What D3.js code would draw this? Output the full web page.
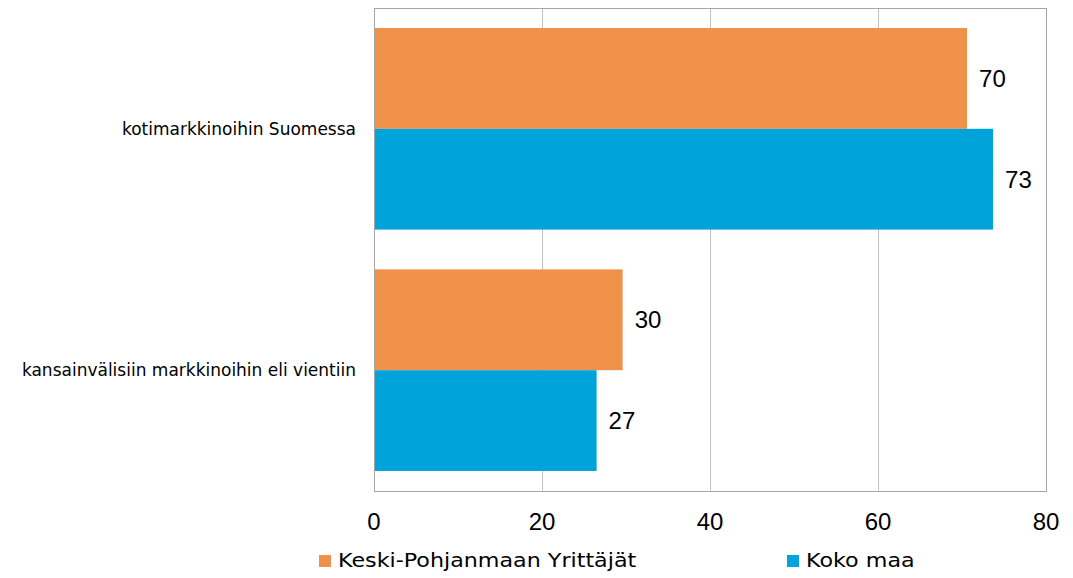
<!DOCTYPE html>
<html>
<head>
<meta charset="utf-8">
<script src="https://cdn.jsdelivr.net/npm/d3@7"></script>
<style>
  body { margin: 0; background: #fff; }
  svg { display: block; }
</style>
</head>
<body>
<div id="chart"></div>
<script>
// data
let categories = ["kotimarkkinoihin Suomessa", "kansainvälisiin markkinoihin eli vientiin"];
let seriesNames = ["Keski-Pohjanmaan Yrittäjät", "Koko maa"];
let seriesColors = ["#F0914A", "#00A3DA"];
let keskiPohjanmaa = [70.6, 29.6];
let kokoMaa = [73.7, 26.5];
let keskiLabels = ["70", "30"];
let kokoLabels = ["73", "27"];
let xTicks = [0, 20, 40, 60, 80];

let series = [
    { name: seriesNames[0], color: seriesColors[0], values: keskiPohjanmaa, labels: keskiLabels },
    { name: seriesNames[1], color: seriesColors[1], values: kokoMaa, labels: kokoLabels }
];

drawChart();

function drawChart(){
    var width = 1073, height = 578;
    var margin = {top: 8, right: 27, bottom: 87, left: 374};
    var innerW = width - margin.left - margin.right,
        innerH = height - margin.top - margin.bottom;
    var numFont = "'Liberation Sans', Arial, sans-serif";
    var textFont = "'DejaVu Sans', Verdana, sans-serif";

    var svg = d3.select("#chart")
        .append("svg")
        .attr("width", width)
        .attr("height", height);

    var g = svg.append("g")
        .attr("transform", "translate(" + margin.left + "," + margin.top + ")");

    // x scale
    var x = d3.scaleLinear()
        .domain([0, 80])
        .range([0, innerW]);

    // category bands
    var y = d3.scaleBand()
        .domain(categories)
        .range([0, innerH])
        .paddingInner(0.165)
        .paddingOuter(0.083);

    var ySub = d3.scaleBand()
        .domain(d3.range(series.length))
        .range([0, y.bandwidth()]);

    // gridlines
    g.selectAll(".grid")
        .data(xTicks)
        .enter()
        .append("line")
        .attr("x1", d => x(d) + 0.5)
        .attr("x2", d => x(d) + 0.5)
        .attr("y1", 0)
        .attr("y2", innerH)
        .attr("stroke", "#c0c0c0")
        .attr("stroke-width", 1);

    // plot border
    g.append("rect")
        .attr("x", 0.5)
        .attr("y", 0.5)
        .attr("width", innerW)
        .attr("height", innerH)
        .attr("fill", "none")
        .attr("stroke", "#a6a6a6")
        .attr("stroke-width", 1);

    // bars + value labels
    series.forEach(function(s, si){
        g.selectAll(".bar" + si)
            .data(categories)
            .enter()
            .append("rect")
            .attr("x", x(0) + 1)
            .attr("y", d => y(d) + ySub(si))
            .attr("width", (d, i) => x(s.values[i]) - x(0) - 1)
            .attr("height", ySub.bandwidth())
            .attr("fill", s.color);

        g.selectAll(".lab" + si)
            .data(categories)
            .enter()
            .append("text")
            .attr("x", (d, i) => x(s.values[i]) + 12)
            .attr("y", d => y(d) + ySub(si) + ySub.bandwidth() / 2)
            .attr("dy", "0.35em")
            .attr("font-family", numFont)
            .attr("font-size", "24px")
            .attr("fill", "#000")
            .text((d, i) => s.labels[i]);
    });

    // category labels
    g.selectAll(".cat")
        .data(categories)
        .enter()
        .append("text")
        .attr("x", -18)
        .attr("y", d => y(d) + y.bandwidth() / 2)
        .attr("dy", "0.35em")
        .attr("text-anchor", "end")
        .attr("font-family", textFont)
        .attr("font-size", "17px")
        .attr("fill", "#000")
        .text(d => d);

    // x tick labels
    g.selectAll(".tick")
        .data(xTicks)
        .enter()
        .append("text")
        .attr("x", d => x(d))
        .attr("y", innerH + 39)
        .attr("text-anchor", "middle")
        .attr("font-family", numFont)
        .attr("font-size", "24px")
        .attr("fill", "#000")
        .text(d => d);

    // legend
    var legendX = [319, 787];
    series.forEach(function(s, si){
        var lg = svg.append("g")
            .attr("transform", "translate(" + legendX[si] + ",555)");
        lg.append("rect")
            .attr("width", 12)
            .attr("height", 12)
            .attr("fill", s.color);
        lg.append("text")
            .attr("transform", "translate(19,12) scale(1.17,1)")
            .attr("font-family", textFont)
            .attr("font-size", "19px")
            .attr("fill", "#000")
            .text(s.name);
    });
}
</script>
</body>
</html>
